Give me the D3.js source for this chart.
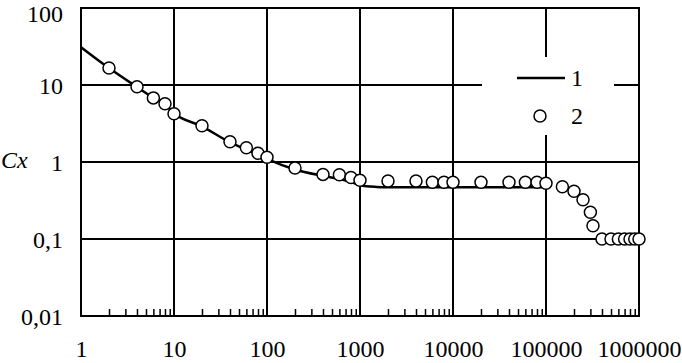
<!DOCTYPE html>
<html><head><meta charset="utf-8">
<script src="https://cdn.jsdelivr.net/npm/d3@7"></script>
<style>
html,body{margin:0;padding:0;background:#fff;}
svg{display:block;}
</style></head><body>
<svg id="c" width="682" height="363"></svg>
<script>
// Data
const xTickLabels = [1, 10, 100, 1000, 10000, 100000, 1000000];
const yTickLabels = [0.01, 0.1, 1, 10, 100];
const lineRe = [1, 2, 4, 6, 8, 10, 20, 40, 60, 80, 100, 200, 400, 600, 800, 1000, 1500, 2000, 10000, 100000];
const lineCx = [31, 16.6, 9.4, 6.8, 5.6, 4.3, 2.9, 1.8, 1.45, 1.25, 1.1, 0.8, 0.66, 0.6, 0.55, 0.5, 0.475, 0.47, 0.47, 0.47];
const pointRe = [2, 4, 6, 8, 10, 20, 40, 60, 80, 100, 200, 400, 600, 800, 1000, 2000, 4000, 6000, 8000, 10000, 20000, 40000, 60000, 80000, 100000, 150000, 200000, 250000, 300000, 320000, 400000, 500000, 600000, 700000, 800000, 900000, 1000000];
const pointCx = [16.6, 9.5, 6.8, 5.7, 4.24, 2.96, 1.83, 1.53, 1.3, 1.15, 0.836, 0.69, 0.684, 0.63, 0.58, 0.567, 0.567, 0.545, 0.545, 0.545, 0.545, 0.545, 0.545, 0.545, 0.53, 0.478, 0.417, 0.324, 0.222, 0.149, 0.1, 0.1, 0.1, 0.1, 0.1, 0.1, 0.1];
const legendLabels = ["1", "2"];
const yTitle = "Cx";

const FONT = "'Liberation Serif'";
const FS = "24px";
const svg = d3.select("#c");
const L = 81, R = 639, T = 8, B = 316;
const x = d3.scaleLog().domain([1, 1e6]).range([L, R]);
const y = d3.scaleLog().domain([0.01, 100]).range([B, T]);
function styleText(sel) {
  return sel.style("font-family", FONT).style("font-size", FS).style("fill", "#000");
}

// gridlines
const g = svg.append("g");
g.selectAll("line.vx").data(xTickLabels).enter().append("line")
  .attr("x1", d => x(d)).attr("x2", d => x(d)).attr("y1", T).attr("y2", B)
  .attr("stroke", "#000").attr("stroke-width", 2);
g.selectAll("line.hy").data(yTickLabels).enter().append("line")
  .attr("x1", L).attr("x2", R).attr("y1", d => y(d)).attr("y2", d => y(d))
  .attr("stroke", "#000").attr("stroke-width", 2);
svg.append("rect").attr("x", L).attr("y", T).attr("width", R - L).attr("height", B - T)
  .attr("fill", "none").attr("stroke", "#000").attr("stroke-width", 2);

// minor ticks inside bottom
const minor = [];
for (let e = 0; e < 6; e++) for (let m = 2; m <= 9; m++) minor.push(m * Math.pow(10, e));
const ma = svg.append("g").attr("transform", `translate(0,${B})`)
  .call(d3.axisBottom(x).tickValues(minor).tickSize(-7).tickFormat(""));
ma.select(".domain").remove();
ma.selectAll("line").attr("stroke", "#000").attr("stroke-width", 1.5);

// x labels
const xa = svg.append("g").attr("transform", `translate(0,${B})`)
  .call(d3.axisBottom(x).tickValues(xTickLabels).tickSize(0).tickFormat(d3.format("d")));
xa.select(".domain").remove();
styleText(xa.selectAll("text").attr("y", 41).attr("dy", 0));

// y labels
const ya = svg.append("g").attr("transform", `translate(${L},0)`)
  .call(d3.axisLeft(y).tickValues(yTickLabels).tickSize(0)
    .tickFormat(d => String(d).replace(".", ",")));
ya.select(".domain").remove();
styleText(ya.selectAll("text").attr("x", -18).attr("dy", d => d === 100 ? 13.5 : 8));

styleText(svg.append("text").attr("x", 1).attr("y", 168).text(yTitle))
  .style("font-style", "italic");

// line
const line = d3.line().x((d, i) => x(lineRe[i])).y((d, i) => y(lineCx[i])).curve(d3.curveMonotoneX);
svg.append("path").datum(lineRe).attr("d", line)
  .attr("fill", "none").attr("stroke", "#000").attr("stroke-width", 2.5);

// points
svg.selectAll("circle.p").data(pointRe).enter().append("circle")
  .attr("cx", d => x(d)).attr("cy", (d, i) => y(pointCx[i])).attr("r", 6)
  .attr("fill", "#fff").attr("stroke", "#000").attr("stroke-width", 1.5);

// legend
const lg = svg.append("g");
lg.append("rect").attr("x", 482).attr("y", 57).attr("width", 132).attr("height", 78).attr("fill", "#fff");
lg.append("line").attr("x1", 517).attr("x2", 565).attr("y1", 78).attr("y2", 78)
  .attr("stroke", "#000").attr("stroke-width", 2.5);
styleText(lg.append("text").attr("x", 571).attr("y", 86).text(legendLabels[0]));
lg.append("circle").attr("cx", 540).attr("cy", 116).attr("r", 6)
  .attr("fill", "#fff").attr("stroke", "#000").attr("stroke-width", 1.5);
styleText(lg.append("text").attr("x", 571).attr("y", 124).text(legendLabels[1]));
</script>
</body></html>
